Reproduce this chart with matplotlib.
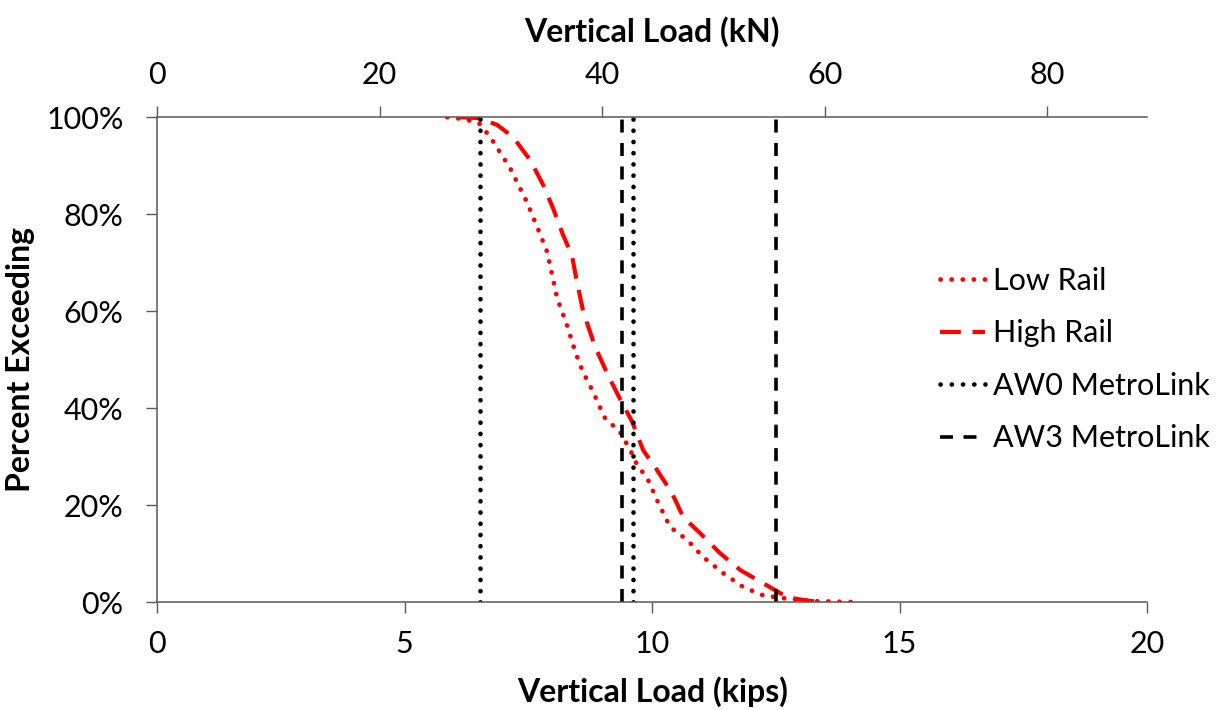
import matplotlib
matplotlib.use("Agg")
import matplotlib.pyplot as plt
from matplotlib.ticker import FuncFormatter

plt.rcParams['font.family'] = ['Lato', 'DejaVu Sans']

# Exceedance curves: vertical load (kips) vs percent of wheels exceeding
low_rail_kips = [5.86, 6.2, 6.5, 6.73, 7.13, 7.47, 7.68, 7.88, 8.08, 8.28, 8.45, 8.6, 8.79, 9.05,
                 9.35, 9.56, 9.70, 9.90, 10.10, 10.36, 10.71, 11.03, 11.43, 11.84, 12.24, 12.65,
                 13.25, 14.1]
low_rail_pct = [100, 99.6, 98.8, 95.9, 89.5, 82.5, 77.3, 72.2, 62.7, 57.1, 51.5, 47.5, 43.7, 37.9,
                35.1, 31.3, 28.2, 25.6, 21.0, 15.5, 12.8, 9.3, 6.0, 3.1, 1.4, 0.8, 0.2, 0.0]

high_rail_kips = [6.1, 6.5, 6.87, 7.19, 7.54, 7.80, 8.00, 8.20, 8.38, 8.48, 8.61, 8.85, 9.09, 9.31,
                  9.60, 9.82, 10.10, 10.40, 10.63, 10.97, 11.37, 11.78, 12.24, 12.73, 13.13, 13.5]
high_rail_pct = [100, 99.8, 98.4, 95.9, 91.1, 86.0, 81.2, 75.7, 71.5, 66.0, 59.8, 52.6, 47.2, 42.7,
                 37.1, 31.3, 27.2, 22.5, 17.5, 14.2, 10.1, 6.6, 3.9, 1.0, 0.3, 0.0]

# Reference static wheel loads (kips)
aw0_loads = [6.53, 9.62]
aw3_loads = [9.39, 12.5]

KN_PER_KIP = 4.44822

x_ticks = [0, 5, 10, 15, 20]
y_ticks = [0, 20, 40, 60, 80, 100]
kn_ticks = [0, 20, 40, 60, 80]

AXIS_GRAY = '#595959'
TICK_FS = 22
LABEL_FS = 23

fig = plt.figure(figsize=(12.27, 7.10), dpi=100)
ax = fig.add_axes([0.128, 0.152, 0.807, 0.683])

ax.plot(low_rail_kips, low_rail_pct, color='#ff0000', linestyle=(0, (0.05, 2.3)),
        dash_capstyle='round', linewidth=3.4, label='Low Rail')
ax.plot(high_rail_kips, high_rail_pct, color='#ff0000', linestyle=(0, (5.0, 2.8)),
        linewidth=3.0, label='High Rail')
for i, xv in enumerate(aw0_loads):
    ax.axvline(xv, color='black', linestyle=(0, (0.05, 2.4)), dash_capstyle='round',
               linewidth=3.3, label='AW0 MetroLink' if i == 0 else None)
for i, xv in enumerate(aw3_loads):
    ax.axvline(xv, color='black', linestyle=(0, (3.6, 2.9)), linewidth=2.6,
               label='AW3 MetroLink' if i == 0 else None)

ax.set_xlim(0, 20)
ax.set_ylim(0, 100)
ax.set_xticks(x_ticks)
ax.set_yticks(y_ticks)
ax.yaxis.set_major_formatter(FuncFormatter(lambda v, p: f"{int(v)}%"))

ax.spines['right'].set_visible(False)
for side in ['left', 'bottom', 'top']:
    ax.spines[side].set_color(AXIS_GRAY)
    ax.spines[side].set_linewidth(1.1)

ax.tick_params(axis='x', direction='out', length=8, width=1.0, color=AXIS_GRAY,
               labelsize=TICK_FS, pad=12)
ax.tick_params(axis='y', direction='out', length=8, width=1.0, color=AXIS_GRAY,
               labelsize=TICK_FS, pad=16)

ax.set_xlabel('Vertical Load (kips)', fontsize=LABEL_FS, fontweight='bold', labelpad=13)
ax.set_ylabel('Percent Exceeding', fontsize=LABEL_FS, fontweight='bold', labelpad=8)

top = ax.secondary_xaxis('top', functions=(lambda k: k * KN_PER_KIP, lambda n: n / KN_PER_KIP))
top.set_xticks(kn_ticks)
top.tick_params(direction='out', length=8, width=1.0, color=AXIS_GRAY,
                labelsize=TICK_FS, pad=12)
top.spines['top'].set_visible(False)
top.set_xlabel('Vertical Load (kN)', fontsize=LABEL_FS, fontweight='bold', labelpad=14)

leg = ax.legend(loc='center left', bbox_to_anchor=(0.778, 0.50), frameon=False,
                fontsize=TICK_FS, handlelength=1.5, handletextpad=0.25, labelspacing=0.8,
                borderaxespad=0)

fig.savefig('out.png', dpi=100)
